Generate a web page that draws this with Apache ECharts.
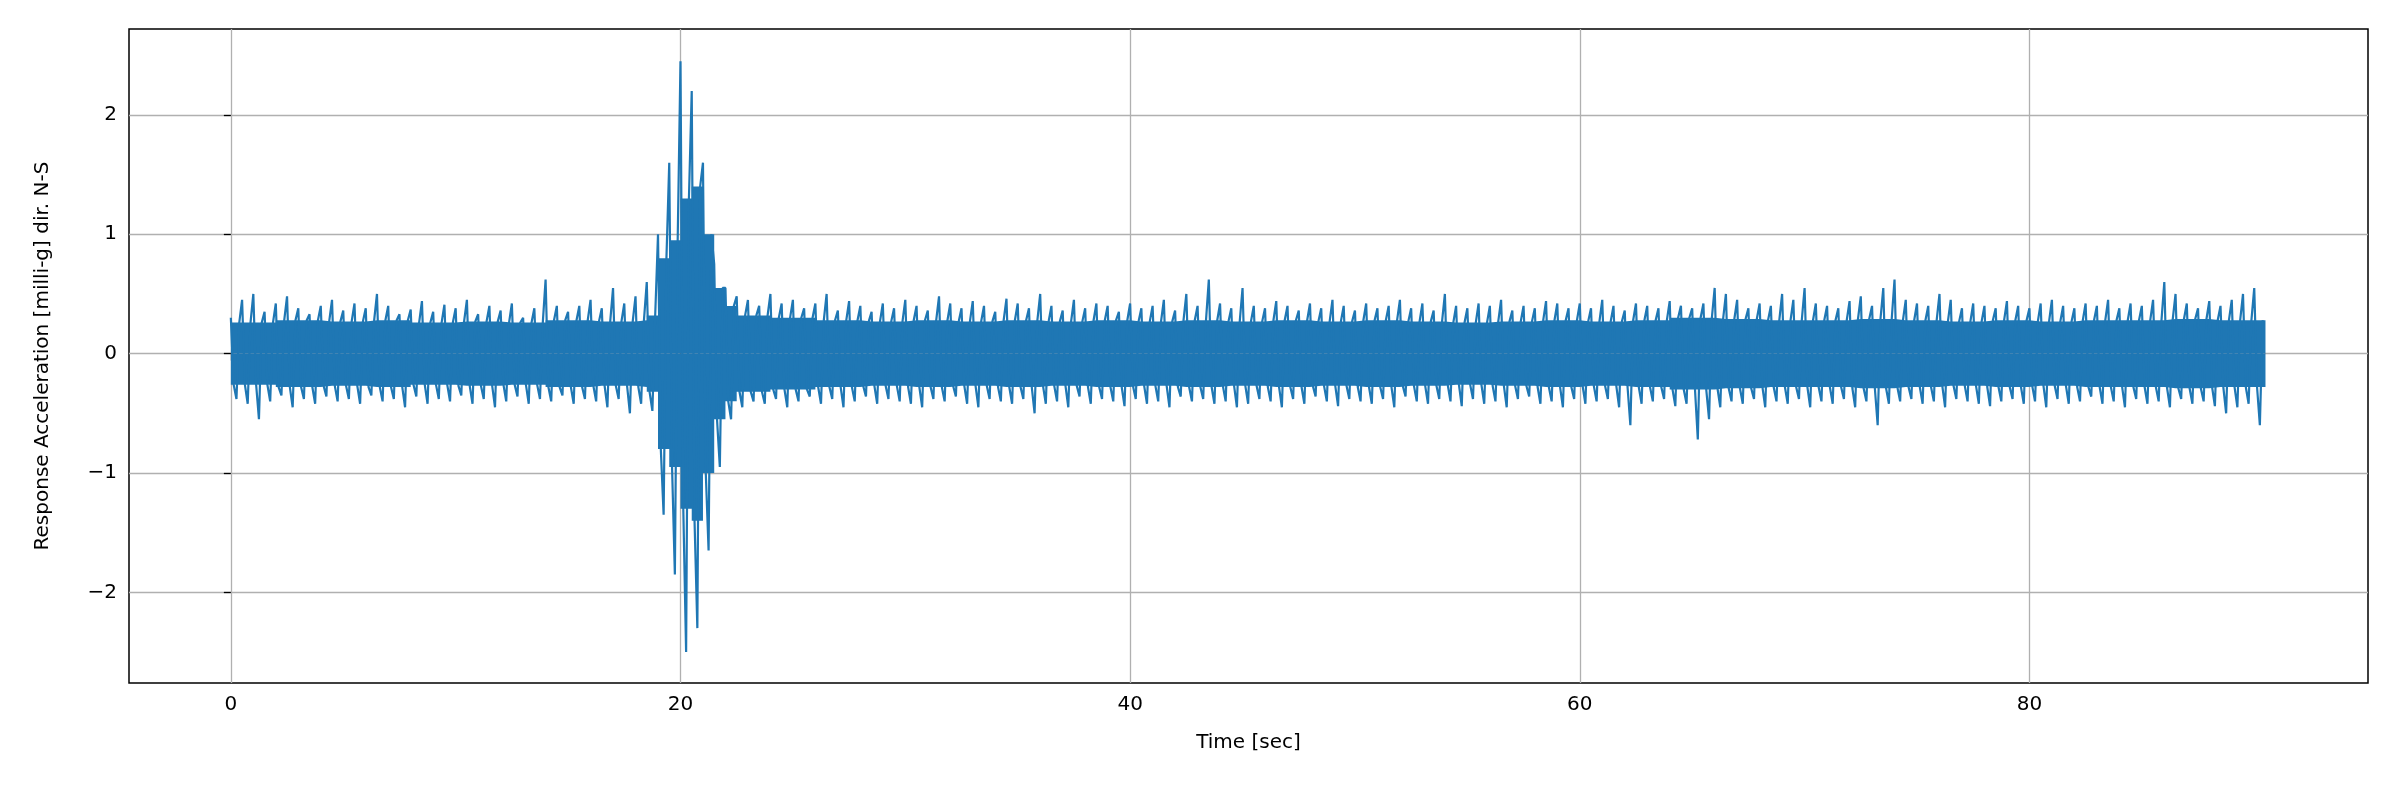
<!DOCTYPE html>
<html>
<head>
<meta charset="utf-8">
<script src="https://cdn.jsdelivr.net/npm/echarts@6/dist/echarts.min.js"></script>
<style>html,body{margin:0;padding:0;background:#fff}#c{width:2400px;height:800px}</style>
</head>
<body>
<div id="c"></div>
<script>
// envelope: per 0.5 s bin, peak (hi) and trough (lo), milli-g
const binWidth = 0.5;
const hi = [
  .30,.45,.50,.35,.42,.48,.38,.33,.40,.45,
  .36,.42,.38,.50,.40,.33,.37,.44,.35,.41,
  .38,.45,.33,.40,.36,.42,.30,.38,.62,.40,
  .35,.40,.45,.38,.55,.42,.48,.60,1.0,1.6,
  2.45,2.2,1.6,.75,.55,.48,.45,.40,.50,.42,
  .45,.38,.42,.50,.36,.44,.40,.35,.42,.38,
  .45,.40,.36,.48,.42,.38,.44,.40,.35,.46,
  .42,.38,.50,.40,.36,.45,.38,.42,.40,.35,
  .42,.38,.40,.45,.36,.50,.40,.62,.42,.38,
  .55,.40,.38,.44,.40,.36,.42,.38,.45,.40,
  .36,.42,.38,.40,.45,.38,.42,.36,.50,.40,
  .38,.42,.40,.45,.36,.40,.38,.44,.42,.38,
  .42,.38,.45,.40,.36,.42,.40,.38,.44,.40,
  .38,.42,.55,.50,.45,.38,.42,.40,.50,.45,
  .55,.42,.40,.38,.44,.48,.40,.55,.62,.45,
  .42,.40,.50,.45,.38,.42,.40,.38,.44,.40,
  .38,.42,.45,.40,.38,.42,.40,.45,.38,.42,
  .40,.45,.60,.50,.42,.38,.44,.40,.45,.50,
  .55
];
const lo = [
  -.38,-.42,-.55,-.40,-.35,-.45,-.38,-.42,-.36,-.40,
  -.38,-.42,-.35,-.40,-.38,-.45,-.36,-.42,-.38,-.40,
  -.35,-.42,-.38,-.45,-.40,-.36,-.42,-.38,-.40,-.35,
  -.42,-.38,-.40,-.45,-.38,-.50,-.42,-.48,-1.35,-1.85,
  -2.5,-2.3,-1.65,-.95,-.55,-.45,-.40,-.42,-.38,-.45,
  -.40,-.36,-.42,-.38,-.45,-.40,-.36,-.42,-.38,-.40,
  -.42,-.45,-.38,-.40,-.36,-.42,-.45,-.38,-.40,-.42,
  -.38,-.50,-.42,-.40,-.45,-.36,-.42,-.38,-.40,-.44,
  -.38,-.42,-.40,-.45,-.36,-.40,-.38,-.42,-.40,-.45,
  -.42,-.38,-.40,-.45,-.38,-.42,-.36,-.40,-.44,-.38,
  -.40,-.42,-.38,-.45,-.36,-.40,-.42,-.38,-.40,-.44,
  -.38,-.42,-.40,-.45,-.38,-.36,-.42,-.40,-.45,-.38,
  -.42,-.40,-.38,-.45,-.60,-.42,-.40,-.38,-.44,-.42,
  -.72,-.55,-.45,-.40,-.42,-.38,-.45,-.40,-.42,-.38,
  -.45,-.40,-.42,-.38,-.45,-.40,-.60,-.42,-.40,-.38,
  -.42,-.40,-.45,-.38,-.40,-.42,-.44,-.40,-.38,-.42,
  -.40,-.45,-.38,-.42,-.40,-.36,-.42,-.40,-.45,-.38,
  -.42,-.40,-.45,-.38,-.42,-.40,-.44,-.50,-.45,-.42,
  -.60
];
// dense core band half-width, per 2 s segment
const coreStep = 2;
const core = [
  .26,.28,.27,.28,.26,
  .27,.26,.28,.27,.28,
  .30,.32,.30,.28,.27,
  .28,.27,.28,.27,.28,
  .27,.28,.27,.28,.27,
  .28,.27,.26,.27,.28,
  .27,.28,.30,.29,.28,
  .28,.29,.28,.27,.28,
  .27,.28,.28,.29,.28,
  .28
];
// core band during the main event, per 0.5 s from 18.5 s
const eventStart = 18.5;
const eventCore = [.32, .8, .95, 1.3, 1.4, 1.0, .55, .4];
const tEnd = 90.5;
const xTicks = [0, 20, 40, 60, 80];
const yTicks = [-2, -1, 0, 1, 2];

function coreAt(t) {
  const k = Math.floor((t - eventStart) / binWidth);
  if (k >= 0 && k < eventCore.length) return eventCore[k];
  return core[Math.min(core.length - 1, Math.floor(t / coreStep))];
}
const zig = [];
for (let i = 0; i < hi.length; i++) {
  const t = i * binWidth;
  const c = coreAt(t);
  zig.push([t, hi[i]]);
  zig.push([t + binWidth / 4, -c]);
  zig.push([t + binWidth / 2, lo[i]]);
  zig.push([t + 3 * binWidth / 4, c]);
}
// step outline of the core band, one pair of points per 0.5 s bin
const coreHi = [], coreLo = [];
for (let i = 0; i < hi.length; i++) {
  const t0 = i * binWidth, t1 = Math.min(tEnd, t0 + binWidth);
  const c = coreAt(t0);
  coreHi.push([t0, c], [t1, c]);
  coreLo.push([t0, -c], [t1, -c]);
}

const blue = '#1f77b4';
const font = 'DejaVu Sans';
const lbl = { fontFamily: font, fontSize: 20, color: '#000' };
const chart = echarts.init(document.getElementById('c'));
chart.setOption({
  animation: false,
  grid: { left: 129, right: 32, top: 29, bottom: 117, show: true, borderColor: '#000', borderWidth: 1.5 },
  xAxis: {
    type: 'value', min: -4.53, max: 95.06,
    name: 'Time [sec]', nameLocation: 'middle', nameGap: 50,
    nameTextStyle: lbl,
    axisLine: { show: false },
    axisTick: { show: true, length: 7, customValues: xTicks, lineStyle: { color: '#000', width: 1.3 } },
    axisLabel: Object.assign({ customValues: xTicks, margin: 12 }, lbl),
    splitLine: { show: true, lineStyle: { color: '#b0b0b0', width: 1.3 } }
  },
  yAxis: {
    type: 'value', min: -2.76, max: 2.72,
    name: 'Response Acceleration [milli-g] dir. N-S', nameLocation: 'middle', nameGap: 76,
    nameTextStyle: lbl,
    axisLine: { show: false },
    axisTick: { show: true, length: 7, customValues: yTicks, lineStyle: { color: '#000', width: 1.3 } },
    axisLabel: Object.assign({ customValues: yTicks, margin: 12,
      formatter: v => String(v).replace('-', '\u2212') }, lbl),
    splitLine: { show: true, lineStyle: { color: '#b0b0b0', width: 1.3 } }
  },
  series: [
    { type: 'line', data: coreHi, symbol: 'none', z: 2,
      lineStyle: { width: 0 }, areaStyle: { color: blue, opacity: 1, origin: 0 } },
    { type: 'line', data: coreLo, symbol: 'none', z: 2,
      lineStyle: { width: 0 }, areaStyle: { color: blue, opacity: 1, origin: 0 } },
    { type: 'line', data: zig, symbol: 'none', z: 3,
      lineStyle: { color: blue, width: 2.2 } }
  ]
});
</script>
</body>
</html>
